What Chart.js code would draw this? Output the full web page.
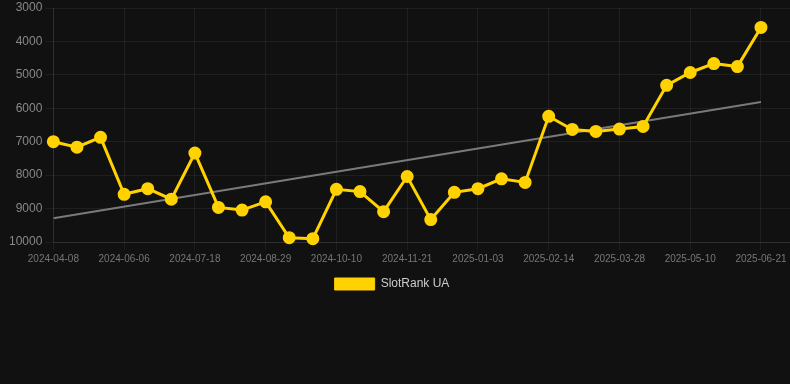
<!DOCTYPE html>
<html>
<head>
<meta charset="utf-8">
<script src="https://cdn.jsdelivr.net/npm/chart.js@4"></script>
<style>
  html, body { margin: 0; padding: 0; background: #111111; }
  #wrap { width: 790px; height: 300px; position: relative; }
</style>
</head>
<body>
<div id="wrap"><canvas id="rankChart"></canvas></div>
<script>
// Dates of each sample (only every third one is labelled on the axis)
const dates = [
  '2024-04-08', '2024-04-28', '2024-05-17', '2024-06-06', '2024-06-20', '2024-07-04',
  '2024-07-18', '2024-08-01', '2024-08-15', '2024-08-29', '2024-09-12', '2024-09-26',
  '2024-10-10', '2024-10-24', '2024-11-07', '2024-11-21', '2024-12-06', '2024-12-20',
  '2025-01-03', '2025-01-17', '2025-01-31', '2025-02-14', '2025-02-28', '2025-03-14',
  '2025-03-28', '2025-04-11', '2025-04-25', '2025-05-10', '2025-05-24', '2025-06-07',
  '2025-06-21'
];

// Rank values (lower is better, axis is reversed)
const ranks = [
  7000, 7164, 6869, 8573, 8405, 8720, 7341, 8966, 9045, 8798,
  9872, 9901, 8425, 8493, 9093, 8041, 9330, 8513, 8405, 8109,
  8218, 6240, 6633, 6692, 6623, 6544, 5314, 4929, 4663, 4752,
  3581
];

// Trend line end values (first and last sample)
const trendStart = 9290;
const trendEnd = 5815;

const seriesName = 'SlotRank UA';
const yellow = '#FFD200';

const rankPoints = ranks.map((v, i) => ({ x: i, y: v }));
const trendPoints = [
  { x: 0, y: trendStart },
  { x: ranks.length - 1, y: trendEnd }
];

Chart.defaults.font.family = 'Arial, "Liberation Sans", Helvetica, sans-serif';

// nudge the legend a little to the left, like the original
const legendShift = {
  id: 'legendShift',
  afterLayout(chart) {
    chart.legend.left -= 6;
    chart.legend.right -= 6;
  }
};

const ctx = document.getElementById('rankChart');
new Chart(ctx, {
  type: 'line',
  data: {
    datasets: [
      {
        label: seriesName,
        data: rankPoints,
        borderColor: yellow,
        backgroundColor: yellow,
        borderWidth: 3,
        pointRadius: 5,
        pointHoverRadius: 6,
        pointBackgroundColor: yellow,
        pointBorderColor: yellow,
        tension: 0,
        clip: false,
        order: 1
      },
      {
        label: 'trend',
        data: trendPoints,
        borderColor: '#7a7a7a',
        backgroundColor: '#7a7a7a',
        borderWidth: 2,
        pointRadius: 0,
        tension: 0,
        order: 2
      }
    ]
  },
  plugins: [legendShift],
  options: {
    responsive: true,
    maintainAspectRatio: false,
    animation: false,
    layout: { autoPadding: false, padding: { top: 0, right: 0, left: 6, bottom: 0 } },
    plugins: {
      legend: {
        position: 'bottom',
        labels: {
          color: '#cccccc',
          font: { size: 12 },
          boxWidth: 40,
          boxHeight: 12,
          filter: item => item.text !== 'trend',
          generateLabels: chart => {
            const items = Chart.defaults.plugins.legend.labels.generateLabels(chart);
            items.forEach(it => { it.lineWidth = 1; });
            return items;
          }
        }
      },
      tooltip: { enabled: false }
    },
    scales: {
      x: {
        type: 'linear',
        min: 0,
        max: 31.23,
        grid: { color: 'rgba(255,255,255,0.06)', tickLength: 8 },
        border: { color: 'rgba(255,255,255,0.08)' },
        ticks: {
          stepSize: 3,
          includeBounds: false,
          autoSkip: false,
          maxRotation: 0,
          color: '#777777',
          font: { size: 10 },
          padding: 3,
          callback: value => dates[value] || ''
        }
      },
      y: {
        reverse: true,
        min: 3000,
        max: 10000,
        afterFit: scale => { scale.paddingTop = 8; },
        grid: { color: 'rgba(255,255,255,0.06)', tickLength: 8 },
        border: { color: 'rgba(255,255,255,0.08)' },
        ticks: {
          stepSize: 1000,
          color: '#888888',
          font: { size: 12 },
          padding: 3,
          callback: value => String(value)
        }
      }
    }
  }
});
</script>
</body>
</html>
